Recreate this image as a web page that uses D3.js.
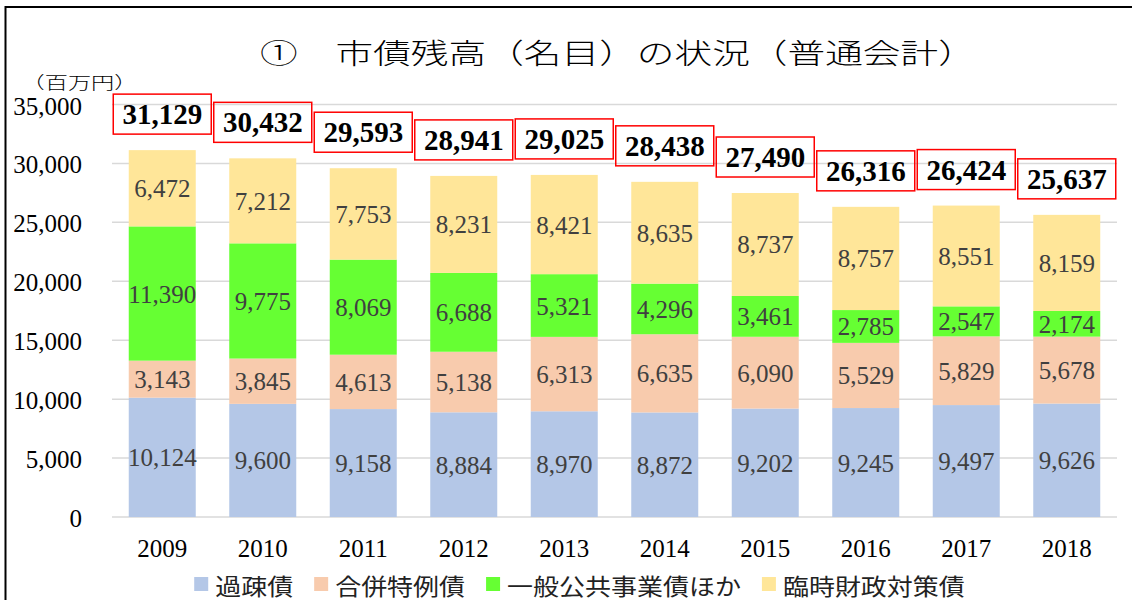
<!DOCTYPE html>
<html>
<head>
<meta charset="utf-8">
<script src="https://cdn.jsdelivr.net/npm/d3@7"></script>
<style>
  body { margin: 0; background: #fff; }
</style>
</head>
<body>
<div id="chart-container"></div>
<script>
// データ
const years = ["2009", "2010", "2011", "2012", "2013", "2014", "2015", "2016", "2017", "2018"];
const seriesNames = ["過疎債", "合併特例債", "一般公共事業債ほか", "臨時財政対策債"];
const kaso = [10124, 9600, 9158, 8884, 8970, 8872, 9202, 9245, 9497, 9626];
const gappei = [3143, 3845, 4613, 5138, 6313, 6635, 6090, 5529, 5829, 5678];
const ippan = [11390, 9775, 8069, 6688, 5321, 4296, 3461, 2785, 2547, 2174];
const rinji = [6472, 7212, 7753, 8231, 8421, 8635, 8737, 8757, 8551, 8159];
const totals = [31129, 30432, 29593, 28941, 29025, 28438, 27490, 26316, 26424, 25637];
const yTicks = [0, 5000, 10000, 15000, 20000, 25000, 30000, 35000];

const colors = ["#b4c7e7", "#f8cbad", "#66ff33", "#ffe699"];
const numFont = "'Liberation Serif', 'DejaVu Serif', serif";
const jpFont = "'Noto Sans CJK JP', sans-serif";

const width = 1132, height = 600;
const plot = { left: 112, right: 1117, top: 104.5, bottom: 517 };

const svg = d3.select("#chart-container")
    .append("svg")
    .attr("width", width)
    .attr("height", height);

// 枠線
svg.append("rect")
    .attr("x", 5.5).attr("y", 7)
    .attr("width", 1140).attr("height", 610)
    .attr("fill", "none")
    .attr("stroke", "#000")
    .attr("stroke-width", 2);

// スケール
const x = d3.scaleBand()
    .domain(years)
    .range([plot.left, plot.right])
    .paddingInner(1 / 3)
    .paddingOuter(1 / 6);

const y = d3.scaleLinear()
    .domain([0, 35000])
    .range([plot.bottom, plot.top]);

// グリッド線
svg.append("g")
    .selectAll("line")
    .data(yTicks)
    .join("line")
    .attr("x1", plot.left).attr("x2", plot.right)
    .attr("y1", d => y(d)).attr("y2", d => y(d))
    .attr("stroke", "#d9d9d9")
    .attr("stroke-width", 1.5);

// Y軸ラベル
svg.append("g")
    .selectAll("text")
    .data(yTicks)
    .join("text")
    .attr("x", 82)
    .attr("y", d => y(d) + 10)
    .attr("text-anchor", "end")
    .style("font-family", numFont)
    .style("font-size", "25px")
    .attr("fill", "#000")
    .text(d => d3.format(",")(d));

// 積み上げデータ
const table = years.map((yr, i) => ({
    year: yr,
    [seriesNames[0]]: kaso[i],
    [seriesNames[1]]: gappei[i],
    [seriesNames[2]]: ippan[i],
    [seriesNames[3]]: rinji[i]
}));
const stacked = d3.stack().keys(seriesNames)(table);

const layers = svg.append("g")
    .selectAll("g")
    .data(stacked)
    .join("g")
    .attr("fill", (d, i) => colors[i]);

layers.selectAll("rect")
    .data(d => d)
    .join("rect")
    .attr("x", d => x(d.data.year))
    .attr("width", x.bandwidth())
    .attr("y", d => y(d[1]))
    .attr("height", d => y(d[0]) - y(d[1]));

// 内訳ラベル
const labels = svg.append("g");
stacked.forEach(layer => {
    labels.selectAll(null)
        .data(layer)
        .join("text")
        .attr("x", d => x(d.data.year) + x.bandwidth() / 2)
        .attr("y", d => (y(d[0]) + y(d[1])) / 2 + 9)
        .attr("text-anchor", "middle")
        .style("font-family", numFont)
        .style("font-size", "25px")
        .attr("fill", "#404040")
        .text(d => d3.format(",")(d[1] - d[0]));
});

// 合計ラベル（赤枠）
const totalG = svg.append("g")
    .selectAll("g")
    .data(totals)
    .join("g")
    .attr("transform", (d, i) => `translate(${x(years[i]) + x.bandwidth() / 2}, ${y(d) - 36})`);

totalG.append("rect")
    .attr("x", -49).attr("y", -20)
    .attr("width", 98).attr("height", 40)
    .attr("fill", "none")
    .attr("stroke", "#ff0000")
    .attr("stroke-width", 1.5);

totalG.append("text")
    .attr("y", 10)
    .attr("text-anchor", "middle")
    .style("font-family", numFont)
    .style("font-size", "29px")
    .style("font-weight", "bold")
    .attr("fill", "#000")
    .text(d => d3.format(",")(d));

// X軸ラベル
svg.append("g")
    .selectAll("text")
    .data(years)
    .join("text")
    .attr("x", d => x(d) + x.bandwidth() / 2)
    .attr("y", 557)
    .attr("text-anchor", "middle")
    .style("font-family", numFont)
    .style("font-size", "25px")
    .attr("fill", "#000")
    .text(d => d);

// 横に伸ばした文字（元画像が横長のため）
function stretchedText(str, cx, baseline, size, targetW, anchor) {
    const t = svg.append("text")
        .attr("text-anchor", anchor)
        .style("font-family", jpFont)
        .style("font-size", size + "px")
        .style("font-weight", "300")
        .attr("fill", "#000")
        .text(str);
    const sx = targetW / t.node().getComputedTextLength();
    t.attr("transform", `translate(${cx}, ${baseline}) scale(${sx}, 1)`);
    return t;
}

// タイトル
stretchedText("①　市債残高（名目）の状況（普通会計）", 618, 64, 28, 716, "middle");

// 単位
stretchedText("（百万円）", 21.5, 88.5, 17, 116, "start");

// 凡例
const legendScale = 1.13;
const legend = svg.append("g");
const items = seriesNames.map((name, i) => {
    const g = legend.append("g");
    g.append("rect")
        .attr("y", 577)
        .attr("width", 14).attr("height", 14)
        .attr("fill", colors[i]);
    const t = g.append("text")
        .attr("transform", `translate(21, 594.5) scale(${legendScale}, 1)`)
        .style("font-family", jpFont)
        .style("font-size", "23px")
        .attr("fill", "#222")
        .text(name);
    const w = 21 + t.node().getComputedTextLength() * legendScale;
    return { g, w };
});
const gap = 21;
const totalW = d3.sum(items, d => d.w) + gap * (items.length - 1);
let cx = 579.5 - totalW / 2;
items.forEach(it => {
    it.g.attr("transform", `translate(${cx}, 0)`);
    cx += it.w + gap;
});
</script>
</body>
</html>
